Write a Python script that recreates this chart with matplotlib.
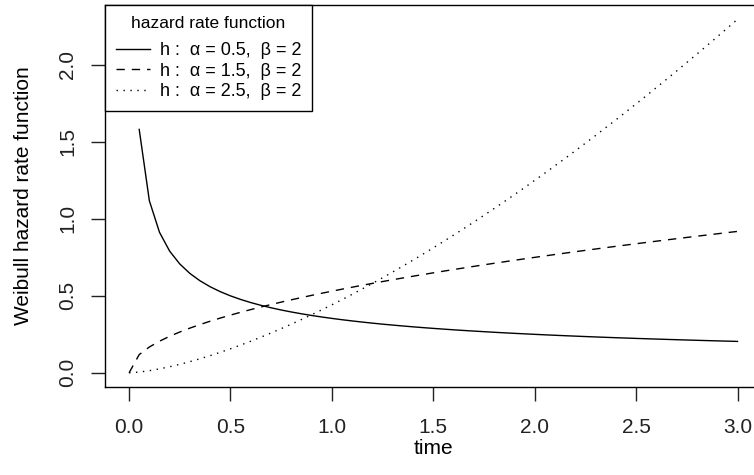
import matplotlib
matplotlib.use("Agg")
import matplotlib.pyplot as plt

plt.rcParams["font.family"] = ["Liberation Sans", "DejaVu Sans"]

# time grid used for all three curves (step 0.05)
time = [round(0.05 * i, 2) for i in range(61)]

# alpha = 0.5, beta = 2  (undefined at t = 0, so starts at 0.05)
h_a05 = [1.5811, 1.1180, 0.9129, 0.7906, 0.7071, 0.6455, 0.5976, 0.5590, 0.5270, 0.5000,
         0.4767, 0.4564, 0.4385, 0.4226, 0.4082, 0.3953, 0.3835, 0.3727, 0.3627, 0.3536,
         0.3450, 0.3371, 0.3297, 0.3227, 0.3162, 0.3101, 0.3043, 0.2988, 0.2936, 0.2887,
         0.2840, 0.2795, 0.2752, 0.2712, 0.2673, 0.2635, 0.2599, 0.2565, 0.2532, 0.2500,
         0.2469, 0.2440, 0.2411, 0.2384, 0.2357, 0.2331, 0.2306, 0.2282, 0.2259, 0.2236,
         0.2214, 0.2193, 0.2172, 0.2152, 0.2132, 0.2113, 0.2094, 0.2076, 0.2058, 0.2041]

# alpha = 1.5, beta = 2
h_a15 = [0.0, 0.1186, 0.1677, 0.2054, 0.2372, 0.2652, 0.2905, 0.3137, 0.3354, 0.3558, 0.3750,
         0.3933, 0.4108, 0.4276, 0.4437, 0.4593, 0.4743, 0.4889, 0.5031, 0.5169, 0.5303,
         0.5434, 0.5562, 0.5687, 0.5809, 0.5929, 0.6047, 0.6162, 0.6275, 0.6386, 0.6495,
         0.6603, 0.6708, 0.6812, 0.6915, 0.7016, 0.7115, 0.7213, 0.7310, 0.7406, 0.7500,
         0.7593, 0.7685, 0.7776, 0.7866, 0.7955, 0.8043, 0.8130, 0.8216, 0.8301, 0.8385,
         0.8469, 0.8551, 0.8633, 0.8714, 0.8794, 0.8874, 0.8953, 0.9031, 0.9109, 0.9186]

# alpha = 2.5, beta = 2
h_a25 = [0.0, 0.0049, 0.0140, 0.0257, 0.0395, 0.0552, 0.0726, 0.0915, 0.1118, 0.1334, 0.1563,
         0.1803, 0.2054, 0.2316, 0.2588, 0.2870, 0.3162, 0.3463, 0.3773, 0.4092, 0.4419,
         0.4755, 0.5099, 0.5450, 0.5809, 0.6176, 0.6551, 0.6932, 0.7321, 0.7716, 0.8119,
         0.8528, 0.8944, 0.9367, 0.9796, 1.0231, 1.0673, 1.1120, 1.1574, 1.2034, 1.2500,
         1.2972, 1.3449, 1.3932, 1.4421, 1.4916, 1.5415, 1.5921, 1.6431, 1.6948, 1.7469,
         1.7996, 1.8528, 1.9065, 1.9607, 2.0154, 2.0706, 2.1263, 2.1825, 2.2392, 2.2964]

labels = ["h :  α = 0.5,  β = 2", "h :  α = 1.5,  β = 2", "h :  α = 2.5,  β = 2"]
xticks = [0.0, 0.5, 1.0, 1.5, 2.0, 2.5, 3.0]
yticks = [0.0, 0.5, 1.0, 1.5, 2.0]

fig = plt.figure(figsize=(7.54, 4.75), dpi=100)
ax = fig.add_axes([0.1389, 0.1853, 0.8715, 0.8038])

ax.plot(time[1:], h_a05, color="black", lw=1.0, ls="-", label=labels[0])
ax.plot(time, h_a15, color="black", lw=1.0, ls=(0, (6, 5)), label=labels[1])
ax.plot(time, h_a25, color="black", lw=1.0, ls=(0, (1, 4)), label=labels[2])

# R style 4% padding
ax.set_xlim(-0.12, 3.12)
ax.set_ylim(-0.0919, 2.388)

ax.set_xticks(xticks)
ax.set_xticklabels([f"{v:.1f}" for v in xticks])
ax.set_yticks(yticks)
ax.set_yticklabels([f"{v:.1f}" for v in yticks], rotation=90, va="center")
ax.tick_params(length=10, width=1.0, labelsize=15, colors="#222222")
ax.tick_params(axis="x", pad=12)
ax.tick_params(axis="y", pad=10)

for s in ax.spines.values():
    s.set_linewidth(1.0)
ax.spines["right"].set_visible(False)

ax.set_xlabel("time", fontsize=15, labelpad=2)
ax.set_ylabel("Weibull hazard rate function", fontsize=15, labelpad=18)

leg = ax.legend(loc="upper left", bbox_to_anchor=(0, 1), borderaxespad=0,
                title="hazard rate function", fontsize=13, title_fontsize=12.5,
                fancybox=False, edgecolor="black", framealpha=1,
                handlelength=1.9, handletextpad=0.55, labelspacing=0.2,
                borderpad=0.6)
leg.get_frame().set_linewidth(1.0)
# extra gap between the legend title and the entries
leg._legend_box.sep = 8

fig.savefig("out.png", dpi=100)
